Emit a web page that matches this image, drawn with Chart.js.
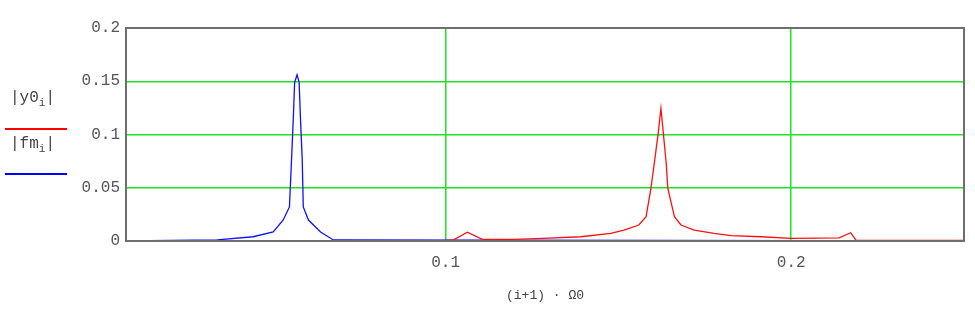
<!DOCTYPE html>
<html>
<head>
<meta charset="utf-8">
<script src="https://cdn.jsdelivr.net/npm/chart.js@4"></script>
<style>
  body { margin: 0; background: #fff; }
  #wrap { position: relative; width: 975px; height: 313px; }
  .lbl { position: absolute; font-family: "Liberation Mono", monospace; font-size: 16px; color: #444; }
  .lbl sub { font-size: 11px; }
  .bar { position: absolute; height: 2px; }
</style>
</head>
<body>
<div id="wrap">
  <canvas id="chart" width="975" height="313"></canvas>
  <div class="lbl" style="left:10px; top:89px;">|y0<sub>i</sub>|</div>
  <div class="bar" style="left:5px; top:128px; width:62px; background:#f00;"></div>
  <div class="lbl" style="left:10px; top:135px;">|fm<sub>i</sub>|</div>
  <div class="bar" style="left:5px; top:173px; width:62px; background:#00f;"></div>
</div>
<script>
// |y0_i| (red)
const redX = [0.0075, 0.1, 0.1023, 0.1063, 0.1106, 0.12, 0.128, 0.1391, 0.1478, 0.1516, 0.1559, 0.158, 0.1594, 0.1605, 0.1615, 0.1623, 0.163, 0.1638, 0.1643, 0.1662, 0.1681, 0.1719, 0.1777, 0.1826, 0.1913, 0.2, 0.2139, 0.2172, 0.2188, 0.25];
const redY = [0, 0.0005, 0.001, 0.0082, 0.0015, 0.0015, 0.0025, 0.004, 0.0072, 0.0103, 0.015, 0.0228, 0.0495, 0.076, 0.101, 0.1246, 0.101, 0.074, 0.0495, 0.0228, 0.015, 0.0103, 0.0072, 0.005, 0.004, 0.0025, 0.003, 0.0078, 0.0005, 0.0005];

// |fm_i| (blue)
const blueX = [0.0075, 0.0339, 0.0443, 0.0501, 0.053, 0.0548, 0.0554, 0.0559, 0.0563, 0.057, 0.0576, 0.058, 0.0585, 0.0588, 0.0603, 0.0638, 0.0675, 0.25];
const blueY = [0, 0.001, 0.004, 0.0085, 0.0197, 0.032, 0.076, 0.114, 0.149, 0.156, 0.149, 0.114, 0.076, 0.032, 0.0197, 0.0085, 0.001, 0];

const xTicks = [0.1, 0.2];
const yTicks = [0, 0.05, 0.1, 0.15, 0.2];

function toPoints(xs, ys) {
    return xs.map((x, i) => ({x: x, y: ys[i]}));
}

const frame = {
    id: 'frame',
    afterDraw(chart) {
        const a = chart.chartArea;
        const ctx = chart.ctx;
        ctx.save();
        ctx.strokeStyle = '#6e6e6e';
        ctx.lineWidth = 2;
        ctx.strokeRect(a.left, a.top, a.right - a.left, a.bottom - a.top);
        ctx.restore();
    }
};

const tickFont = {family: 'Liberation Mono', size: 16};

new Chart(document.getElementById('chart'), {
    type: 'line',
    data: {
        datasets: [
            {
                label: '|y0i|',
                data: toPoints(redX, redY),
                borderColor: '#ff1010',
                borderWidth: 1.3,
                pointRadius: 0,
                tension: 0
            },
            {
                label: '|fmi|',
                data: toPoints(blueX, blueY),
                borderColor: '#1010ff',
                borderWidth: 1.3,
                pointRadius: 0,
                tension: 0
            }
        ]
    },
    options: {
        responsive: false,
        animation: false,
        layout: {padding: {top: 28, right: 11, left: 0, bottom: 0}},
        plugins: {legend: {display: false}, tooltip: {enabled: false}},
        scales: {
            x: {
                type: 'linear',
                min: 0.0075,
                max: 0.25,
                afterBuildTicks: s => { s.ticks = xTicks.map(v => ({value: v})); },
                afterFit: s => { s.height = 72; },
                grid: {color: '#22e022', lineWidth: 1.5, drawTicks: false},
                border: {display: false},
                ticks: {
                    color: '#555',
                    font: tickFont,
                    padding: 12,
                    maxRotation: 0,
                    callback: v => String(v)
                },
                title: {
                    display: true,
                    text: '(i+1) · Ω0',
                    color: '#444',
                    font: {family: 'Liberation Mono', size: 13},
                    padding: {top: 0, bottom: 10}
                }
            },
            y: {
                min: 0,
                max: 0.2,
                afterBuildTicks: s => { s.ticks = yTicks.map(v => ({value: v})); },
                afterFit: s => { s.width = 126; },
                grid: {
                    color: c => (c.tick.value === 0 || c.tick.value === 0.2) ? 'rgba(0,0,0,0)' : '#22e022',
                    lineWidth: 1.5,
                    drawTicks: false
                },
                border: {display: false},
                ticks: {
                    color: '#555',
                    font: tickFont,
                    padding: 6,
                    callback: v => String(+v.toFixed(2))
                }
            }
        }
    },
    plugins: [frame]
});
</script>
</body>
</html>
